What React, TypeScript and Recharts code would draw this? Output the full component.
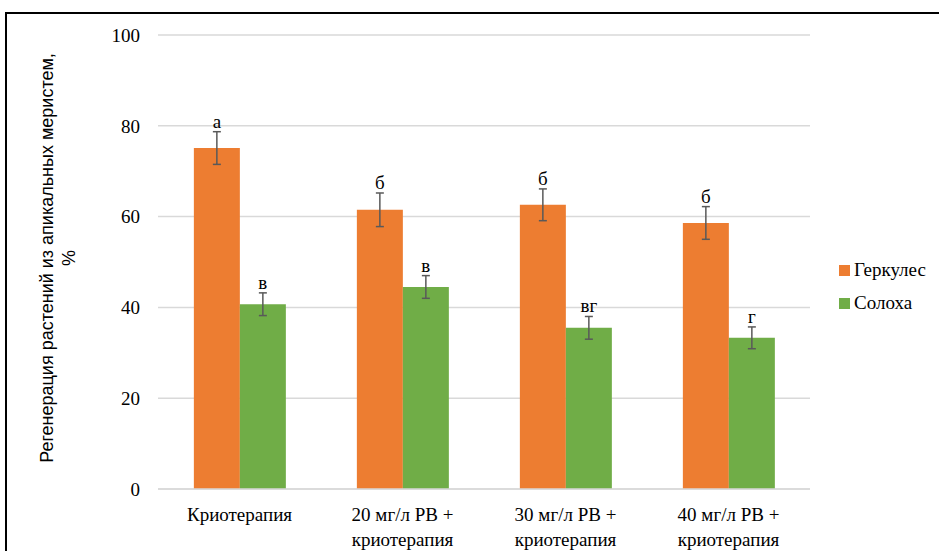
import React from 'react';
import { BarChart, Bar, XAxis, YAxis, CartesianGrid, ErrorBar, LabelList } from 'recharts';

const categories = ['Криотерапия', '20 мг/л РВ +\nкриотерапия', '30 мг/л РВ +\nкриотерапия', '40 мг/л РВ +\nкриотерапия'];
const herkules = [75.1, 61.5, 62.6, 58.6];
const herkulesErr = [3.6, 3.7, 3.5, 3.6];
const herkulesLetters = ['а', 'б', 'б', 'б'];
const solokha = [40.7, 44.5, 35.5, 33.3];
const solokhaErr = [2.5, 2.5, 2.5, 2.4];
const solokhaLetters = ['в', 'в', 'вг', 'г'];
const yTicks = [0, 20, 40, 60, 80, 100];

const ORANGE = '#ED7D31';
const GREEN = '#70AD47';
const SERIF = 'Liberation Serif, Times New Roman, serif';
const SANS = 'Liberation Sans, Arial, sans-serif';

const data = categories.map((name, i) => ({
  name,
  herkules: herkules[i],
  herkulesErr: herkulesErr[i],
  solokha: solokha[i],
  solokhaErr: solokhaErr[i],
}));

const CategoryTick = (props: any) => {
  const { x, y, payload } = props;
  const lines = String(payload.value).split('\n');
  return (
    <g transform={`translate(${x},${y})`}>
      {lines.map((l, i) => (
        <text key={i} x={0} y={24 + i * 25} textAnchor="middle" fill="#000" style={{ fontFamily: SERIF, fontSize: 19 }}>
          {l}
        </text>
      ))}
    </g>
  );
};

// letter placed just above the error bar cap
const letterLabel = (letters: string[], errs: number[]) => (props: any) => {
  const { x, y, width, height, value, index } = props;
  const pxPerUnit = value ? height / value : 0;
  const top = y - errs[index] * pxPerUnit;
  return (
    <text x={x + width / 2} y={top - 4} textAnchor="middle" fill="#000" style={{ fontFamily: SERIF, fontSize: 19 }}>
      {letters[index]}
    </text>
  );
};

const LegendBox = () => (
  <div style={{ position: 'absolute', left: 839, top: 257, fontFamily: SERIF, fontSize: 19, color: '#000' }}>
    {[
      { label: 'Геркулес', color: ORANGE },
      { label: 'Солоха', color: GREEN },
    ].map((e) => (
      <div key={e.label} style={{ display: 'flex', alignItems: 'center', height: 26, marginBottom: 7 }}>
        <span style={{ display: 'inline-block', width: 11, height: 11, background: e.color, marginRight: 4 }} />
        <span>{e.label}</span>
      </div>
    ))}
  </div>
);

export default function App() {
  return (
    <div style={{ position: 'absolute', left: 0, top: 0, width: 939, height: 551, overflow: 'hidden', background: '#fff' }}>
      <div style={{ position: 'absolute', left: 5, top: 12, width: 1000, height: 600, border: '2px solid #000', boxSizing: 'border-box' }} />
      <svg width={100} height={551} style={{ position: 'absolute', left: 0, top: 0 }}>
        <text transform="translate(53,258) rotate(-90)" textAnchor="middle" style={{ fontFamily: SANS, fontSize: 18 }} fill="#000">
          Регенерация растений из апикальных меристем,
        </text>
        <text transform="translate(75,258) rotate(-90)" textAnchor="middle" style={{ fontFamily: SANS, fontSize: 18 }} fill="#000">
          %
        </text>
      </svg>
      <div style={{ position: 'absolute', left: 0, top: 0 }}>
        <BarChart width={939} height={551} data={data} margin={{ top: 35, right: 129, bottom: 0, left: 0 }} barCategoryGap="22%" barGap={0}>
          <CartesianGrid vertical={false} stroke="#D9D9D9" strokeWidth={1.5} />
          <XAxis dataKey="name" height={62} tick={<CategoryTick />} tickLine={false} axisLine={{ stroke: '#D9D9D9', strokeWidth: 1.5 }} interval={0} />
          <YAxis
            width={158}
            domain={[0, 100]}
            ticks={yTicks}
            tickLine={false}
            axisLine={false}
            tick={{ fill: '#000', style: { fontFamily: SERIF, fontSize: 19 } }}
            tickMargin={12}
          />
          <Bar dataKey="herkules" fill={ORANGE} isAnimationActive={false}>
            <ErrorBar dataKey="herkulesErr" width={4} stroke="#595959" strokeWidth={1.5} />
            <LabelList dataKey="herkules" content={letterLabel(herkulesLetters, herkulesErr)} />
          </Bar>
          <Bar dataKey="solokha" fill={GREEN} isAnimationActive={false}>
            <ErrorBar dataKey="solokhaErr" width={4} stroke="#595959" strokeWidth={1.5} />
            <LabelList dataKey="solokha" content={letterLabel(solokhaLetters, solokhaErr)} />
          </Bar>
        </BarChart>
      </div>
      <LegendBox />
    </div>
  );
}
